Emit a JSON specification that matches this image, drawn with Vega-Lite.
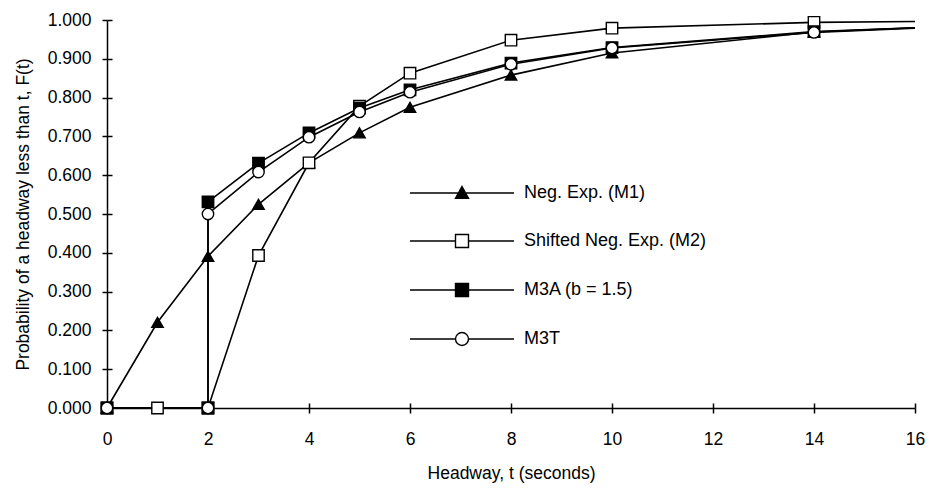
{
  "$schema": "https://vega.github.io/schema/vega-lite/v6.json",
  "width": 808,
  "height": 388,
  "autosize": {"type": "none"},
  "padding": {"left": 107, "top": 20, "right": 13, "bottom": 81},
  "background": "white",
  "config": {
    "view": {"stroke": null},
    "font": "Liberation Sans",
    "axis": {"grid": false, "domainColor": "black", "tickColor": "black", "labelColor": "black", "titleColor": "black", "labelFont": "Liberation Sans", "titleFont": "Liberation Sans", "labelFontSize": 17.5, "titleFontSize": 17.5, "titleFontWeight": "normal", "domainWidth": 1.5, "tickWidth": 1.5}
  },
  "data": {"values": [
    {"series": "Neg. Exp. (M1)", "o": 0, "t": 0, "F": 0, "m": 1},
    {"series": "Neg. Exp. (M1)", "o": 1, "t": 1, "F": 0.221, "m": 1},
    {"series": "Neg. Exp. (M1)", "o": 2, "t": 2, "F": 0.391, "m": 1},
    {"series": "Neg. Exp. (M1)", "o": 3, "t": 3, "F": 0.525, "m": 1},
    {"series": "Neg. Exp. (M1)", "o": 4, "t": 4, "F": 0.632, "m": 1},
    {"series": "Neg. Exp. (M1)", "o": 5, "t": 5, "F": 0.709, "m": 1},
    {"series": "Neg. Exp. (M1)", "o": 6, "t": 6, "F": 0.775, "m": 1},
    {"series": "Neg. Exp. (M1)", "o": 7, "t": 8, "F": 0.858, "m": 1},
    {"series": "Neg. Exp. (M1)", "o": 8, "t": 10, "F": 0.915, "m": 1},
    {"series": "Neg. Exp. (M1)", "o": 9, "t": 14, "F": 0.969, "m": 1},
    {"series": "Neg. Exp. (M1)", "o": 10, "t": 16, "F": 0.980, "m": 0},
    {"series": "Shifted Neg. Exp. (M2)", "o": 0, "t": 0, "F": 0, "m": 1},
    {"series": "Shifted Neg. Exp. (M2)", "o": 1, "t": 1, "F": 0, "m": 1},
    {"series": "Shifted Neg. Exp. (M2)", "o": 2, "t": 2, "F": 0, "m": 1},
    {"series": "Shifted Neg. Exp. (M2)", "o": 3, "t": 3, "F": 0.393, "m": 1},
    {"series": "Shifted Neg. Exp. (M2)", "o": 4, "t": 4, "F": 0.632, "m": 1},
    {"series": "Shifted Neg. Exp. (M2)", "o": 5, "t": 5, "F": 0.778, "m": 1},
    {"series": "Shifted Neg. Exp. (M2)", "o": 6, "t": 6, "F": 0.863, "m": 1},
    {"series": "Shifted Neg. Exp. (M2)", "o": 7, "t": 8, "F": 0.948, "m": 1},
    {"series": "Shifted Neg. Exp. (M2)", "o": 8, "t": 10, "F": 0.979, "m": 1},
    {"series": "Shifted Neg. Exp. (M2)", "o": 9, "t": 14, "F": 0.994, "m": 1},
    {"series": "Shifted Neg. Exp. (M2)", "o": 10, "t": 16, "F": 0.996, "m": 0},
    {"series": "M3A (b = 1.5)", "o": 0, "t": 0, "F": 0, "m": 1},
    {"series": "M3A (b = 1.5)", "o": 1, "t": 2, "F": 0, "m": 1},
    {"series": "M3A (b = 1.5)", "o": 2, "t": 2, "F": 0.531, "m": 1},
    {"series": "M3A (b = 1.5)", "o": 3, "t": 3, "F": 0.631, "m": 1},
    {"series": "M3A (b = 1.5)", "o": 4, "t": 4, "F": 0.709, "m": 1},
    {"series": "M3A (b = 1.5)", "o": 5, "t": 5, "F": 0.773, "m": 1},
    {"series": "M3A (b = 1.5)", "o": 6, "t": 6, "F": 0.820, "m": 1},
    {"series": "M3A (b = 1.5)", "o": 7, "t": 8, "F": 0.889, "m": 1},
    {"series": "M3A (b = 1.5)", "o": 8, "t": 10, "F": 0.929, "m": 1},
    {"series": "M3A (b = 1.5)", "o": 9, "t": 14, "F": 0.970, "m": 1},
    {"series": "M3A (b = 1.5)", "o": 10, "t": 16, "F": 0.980, "m": 0},
    {"series": "M3T", "o": 0, "t": 0, "F": 0, "m": 1},
    {"series": "M3T", "o": 1, "t": 2, "F": 0, "m": 1},
    {"series": "M3T", "o": 2, "t": 2, "F": 0.500, "m": 1},
    {"series": "M3T", "o": 3, "t": 3, "F": 0.608, "m": 1},
    {"series": "M3T", "o": 4, "t": 4, "F": 0.698, "m": 1},
    {"series": "M3T", "o": 5, "t": 5, "F": 0.763, "m": 1},
    {"series": "M3T", "o": 6, "t": 6, "F": 0.814, "m": 1},
    {"series": "M3T", "o": 7, "t": 8, "F": 0.886, "m": 1},
    {"series": "M3T", "o": 8, "t": 10, "F": 0.928, "m": 1},
    {"series": "M3T", "o": 9, "t": 14, "F": 0.968, "m": 1},
    {"series": "M3T", "o": 10, "t": 16, "F": 0.979, "m": 0}
  ]},
  "layer": [
    {
      "mark": {"type": "line", "color": "black", "strokeWidth": 1.6},
      "encoding": {
        "x": {"field": "t", "type": "quantitative", "scale": {"domain": [0, 16], "nice": false}, "axis": {"orient": "bottom", "values": [0, 2, 4, 6, 8, 10, 12, 14, 16], "title": "Headway, t (seconds)", "tickSize": 5, "labelPadding": 17, "titlePadding": 17, "labelFlush": false}},
        "y": {"field": "F", "type": "quantitative", "scale": {"domain": [0, 1], "nice": false}, "axis": {"orient": "left", "values": [0, 0.1, 0.2, 0.3, 0.4, 0.5, 0.6, 0.7, 0.8, 0.9, 1], "format": ".3f", "title": "Probability of a headway less than t, F(t)", "tickSize": 5, "labelPadding": 11, "titlePadding": 15, "labelFlush": false}},
        "detail": {"field": "series"},
        "order": {"field": "o"}
      }
    },
    {
      "transform": [{"filter": "datum.m == 1"}],
      "mark": {"type": "point", "filled": false, "opacity": 1, "stroke": "black", "strokeWidth": 1.4, "size": 130},
      "encoding": {
        "x": {"field": "t", "type": "quantitative", "axis": {"orient": "bottom", "values": [0, 2, 4, 6, 8, 10, 12, 14, 16], "tickSize": -5, "labels": false, "domain": false, "title": null}},
        "y": {"field": "F", "type": "quantitative", "axis": {"orient": "left", "values": [0, 0.1, 0.2, 0.3, 0.4, 0.5, 0.6, 0.7, 0.8, 0.9, 1], "tickSize": -5, "labels": false, "domain": false, "title": null}},
        "shape": {"field": "series", "type": "nominal", "sort": null, "scale": {"domain": ["Neg. Exp. (M1)", "Shifted Neg. Exp. (M2)", "M3A (b = 1.5)", "M3T"], "range": ["triangle-up", "square", "square", "circle"]}, "legend": null},
        "fill": {"field": "series", "type": "nominal", "sort": null, "scale": {"domain": ["Neg. Exp. (M1)", "Shifted Neg. Exp. (M2)", "M3A (b = 1.5)", "M3T"], "range": ["black", "white", "black", "white"]}, "legend": null}
      }
    },
    {
      "transform": [{"filter": "datum.m == 1"}],
      "mark": {"type": "point", "filled": false, "opacity": 0, "strokeWidth": 1.4},
      "encoding": {
        "x": {"field": "t", "type": "quantitative", "axis": null},
        "y": {"field": "F", "type": "quantitative", "axis": null},
        "shape": {"field": "series", "type": "nominal", "sort": null, "scale": {"domain": ["Neg. Exp. (M1)", "Shifted Neg. Exp. (M2)", "M3A (b = 1.5)", "M3T"], "range": ["M-8,0H8M0,-1L1,0.8H-1Z", "M-8,0H-1M1,0H8M-1,-1H1V1H-1Z", "M-8,0H8M-1,-1H1V1H-1Z", "M-8,0H-1M1,0H8M-1,0A1,1,0,1,1,1,0A1,1,0,1,1,-1,0Z"]},
          "legend": {"title": null, "orient": "none", "legendX": 346, "legendY": 164, "symbolSize": 169, "symbolStrokeWidth": 1.4, "symbolStrokeColor": "black", "symbolOpacity": 1, "labelOffset": 53, "labelLimit": 400, "labelFontSize": 18, "labelFont": "Liberation Sans", "labelColor": "black", "rowPadding": 29, "padding": 0}},
        "fill": {"field": "series", "type": "nominal", "sort": null, "scale": {"domain": ["Neg. Exp. (M1)", "Shifted Neg. Exp. (M2)", "M3A (b = 1.5)", "M3T"], "range": ["black", "white", "black", "white"]}},
        "stroke": {"field": "series", "type": "nominal", "sort": null, "scale": {"domain": ["Neg. Exp. (M1)", "Shifted Neg. Exp. (M2)", "M3A (b = 1.5)", "M3T"], "range": ["black", "black", "black", "black"]}}
      }
    }
  ],
  "resolve": {"scale": {"shape": "independent", "fill": "independent", "stroke": "independent"}, "legend": {"shape": "independent", "fill": "independent", "stroke": "independent"}, "axis": {"x": "independent", "y": "independent"}}
}
